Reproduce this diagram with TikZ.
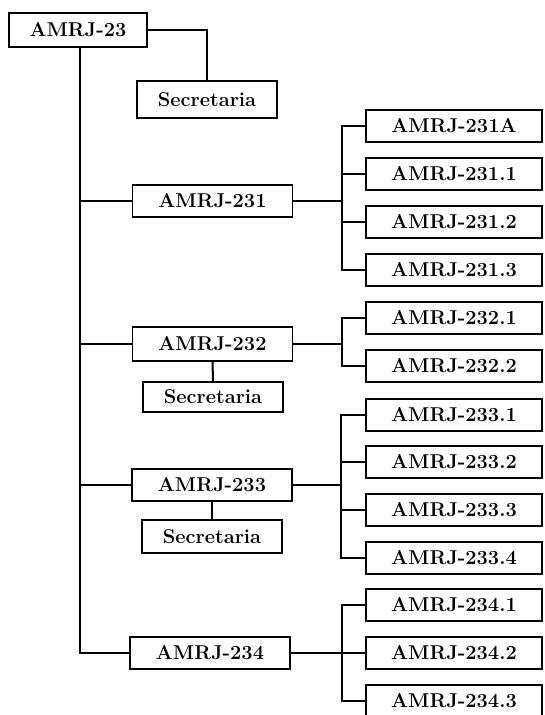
\documentclass[tikz,border=0pt]{standalone}
\begin{document}
\begin{tikzpicture}[x=1pt,y=-1pt,
  box/.style={draw=black,line width=1.4pt,rectangle,inner sep=0pt,minimum height=32pt,
    font=\fontsize{20}{22}\selectfont\bfseries},
  mainbox/.style={box,minimum width=160pt},
  secbox/.style={box,minimum width=140pt,minimum height=32pt,font=\fontsize{20}{22}\selectfont\bfseries},
  kid/.style={box,minimum width=176pt},
  wire/.style={line width=2pt,draw=black}]
\useasboundingbox (0,0) rectangle (544,715);
\clip (0,0) rectangle (544,715);
% top
\node[box,minimum width=138pt,minimum height=34pt] (top) at (78,30) {AMRJ-23};
\node[secbox,minimum height=37pt] (s1) at (207,99.5) {Secretaria};
% main units
\node[mainbox] (a1) at (212.5,201) {AMRJ-231};
\node[mainbox,minimum height=34pt] (a2) at (212.5,344) {AMRJ-232};
\node[secbox,minimum height=30pt] (s2) at (213,397) {Secretaria};
\node[mainbox] (a3) at (212,485) {AMRJ-233};
\node[secbox,minimum height=33pt] (s3) at (212,536.5) {Secretaria};
\node[mainbox] (a4) at (210,653) {AMRJ-234};
% children
\node[kid] (k11) at (454,126) {AMRJ-231A};
\node[kid] (k12) at (454,174) {AMRJ-231.1};
\node[kid] (k13) at (454,222) {AMRJ-231.2};
\node[kid] (k14) at (454,270) {AMRJ-231.3};
\node[kid] (k21) at (454,318) {AMRJ-232.1};
\node[kid] (k22) at (454,366) {AMRJ-232.2};
\node[kid] (k31) at (454,415) {AMRJ-233.1};
\node[kid] (k32) at (454,462) {AMRJ-233.2};
\node[kid] (k33) at (454,510) {AMRJ-233.3};
\node[kid] (k34) at (454,558) {AMRJ-233.4};
\node[kid] (k41) at (454,605) {AMRJ-234.1};
\node[kid] (k42) at (454,653) {AMRJ-234.2};
\node[kid] (k43) at (454,701) {AMRJ-234.3};
% coordinates
\coordinate (spine) at (80,47);
\coordinate (b1) at (342,201);
\coordinate (b2) at (342,344);
\coordinate (b3) at (341,485);
\coordinate (b4) at (342,653);
% connectors
\draw[wire] (top.east) -| (s1.north);
\draw[wire] (top.south -| spine) |- (a4.west);
\draw[wire] (top.south -| spine) |- (a1.west);
\draw[wire] (top.south -| spine) |- (a2.west);
\draw[wire] (top.south -| spine) |- (a3.west);
\draw[wire] (a2.south) -- (s2.north);
\draw[wire] (a3.south) -- (s3.north);
\draw[wire] (a1.east) -- (b1);
\draw[wire] (a2.east) -- (b2);
\draw[wire] (a3.east) -- (b3);
\draw[wire] (a4.east) -- (b4);
\foreach \k in {k11,k12,k13,k14} \draw[wire] (b1) |- (\k.west);
\foreach \k in {k21,k22} \draw[wire] (b2) |- (\k.west);
\foreach \k in {k31,k32,k33,k34} \draw[wire] (b3) |- (\k.west);
\foreach \k in {k41,k42,k43} \draw[wire] (b4) |- (\k.west);
\end{tikzpicture}
\end{document}
